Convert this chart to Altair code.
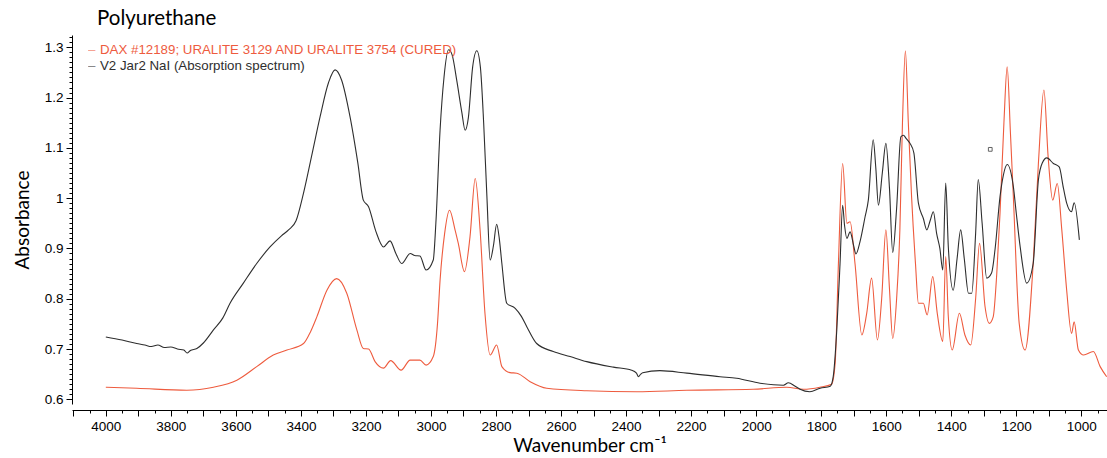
import altair as alt
import pandas as pd

# ---- data ----
black_wn = [4000, 3950, 3905, 3880, 3860, 3840, 3820, 3800, 3780, 3760, 3750, 3740, 3720, 3700,
            3669, 3640, 3618, 3577, 3536, 3495, 3460, 3438, 3415, 3392, 3365, 3341, 3315, 3295,
            3275, 3249, 3225, 3208, 3192, 3170, 3146, 3126, 3108, 3090, 3064, 3050, 3034, 3015,
            2993, 2985, 2972, 2960, 2946, 2935, 2921, 2905, 2895, 2885, 2872, 2859, 2848, 2838,
            2828, 2818, 2808, 2798, 2790, 2782, 2767, 2741, 2722, 2705, 2675, 2624, 2572, 2521,
            2439, 2383, 2368, 2362, 2355, 2349, 2296, 2213, 2111, 2060, 1988, 1916, 1901, 1880,
            1865, 1835, 1803, 1772, 1763, 1752, 1742, 1734, 1728, 1721, 1711, 1700, 1693, 1680,
            1665, 1655, 1640, 1632, 1624, 1612, 1601, 1590, 1580, 1568, 1555, 1547, 1539, 1527,
            1515, 1501, 1486, 1475, 1465, 1455, 1445, 1435, 1426, 1417, 1409, 1394, 1382, 1371,
            1360, 1347, 1337, 1325, 1317, 1305, 1291, 1276, 1265, 1250, 1240, 1228, 1209, 1200,
            1188, 1168, 1148, 1132, 1120, 1106, 1086, 1068, 1055, 1045, 1030, 1022, 1006]
black_abs = [0.724, 0.718, 0.711, 0.708, 0.705, 0.708, 0.703, 0.704, 0.700, 0.698, 0.692, 0.697, 0.701, 0.712,
             0.738, 0.762, 0.791, 0.831, 0.870, 0.903, 0.925, 0.937, 0.955, 1.010, 1.090, 1.162, 1.230, 1.255,
             1.235, 1.162, 1.070, 0.996, 0.983, 0.935, 0.903, 0.915, 0.890, 0.870, 0.890, 0.886, 0.885, 0.857,
             0.877, 0.950, 1.136, 1.240, 1.295, 1.285, 1.235, 1.170, 1.135, 1.160, 1.260, 1.293, 1.260, 1.150,
             1.003, 0.877, 0.905, 0.948, 0.920, 0.870, 0.791, 0.781, 0.765, 0.744, 0.711, 0.695, 0.685, 0.675,
             0.664, 0.658, 0.652, 0.645, 0.650, 0.653, 0.657, 0.652, 0.645, 0.642, 0.632, 0.628, 0.633, 0.626,
             0.620, 0.615, 0.622, 0.626, 0.645, 0.738, 0.870, 0.986, 0.945, 0.920, 0.933, 0.905, 0.889, 0.915,
             0.963, 0.996, 1.116, 1.060, 0.986, 1.050, 1.109, 1.020, 0.892, 0.980, 1.122, 1.125, 1.119, 1.109,
             1.090, 0.990, 0.960, 0.937, 0.955, 0.973, 0.930, 0.900, 0.857, 1.030, 0.903, 0.817, 0.880, 0.937,
             0.880, 0.811, 0.811, 0.930, 1.037, 0.950, 0.841, 0.851, 0.900, 1.003, 1.045, 1.067, 1.023, 0.970,
             0.903, 0.831, 0.870, 1.036, 1.070, 1.080, 1.069, 1.062, 1.020, 0.990, 0.973, 0.991, 0.917]

red_wn = [4000, 3905, 3751, 3669, 3597, 3536, 3485, 3443, 3392, 3370, 3351, 3320, 3290, 3259,
          3228, 3208, 3192, 3172, 3146, 3124, 3092, 3064, 3034, 3015, 2993, 2980, 2972, 2958,
          2943, 2926, 2916, 2897, 2880, 2864, 2849, 2834, 2818, 2798, 2782, 2757, 2736, 2695,
          2644, 2521, 2367, 2213, 2009, 1906, 1855, 1804, 1768, 1757, 1747, 1734, 1721, 1711,
          1696, 1675, 1660, 1645, 1627, 1614, 1601, 1590, 1580, 1568, 1558, 1550, 1541, 1532,
          1522, 1510, 1501, 1486, 1474, 1457, 1443, 1426, 1417, 1409, 1397, 1375, 1358, 1340,
          1325, 1313, 1296, 1283, 1271, 1260, 1250, 1238, 1228, 1218, 1209, 1191, 1173, 1148,
          1132, 1115, 1102, 1088, 1074, 1060, 1045, 1030, 1022, 1009, 993, 963, 942, 922]
red_abs = [0.624, 0.622, 0.618, 0.624, 0.638, 0.665, 0.688, 0.698, 0.711, 0.735, 0.764, 0.817, 0.840, 0.811,
           0.738, 0.701, 0.700, 0.675, 0.662, 0.677, 0.658, 0.678, 0.678, 0.668, 0.685, 0.750, 0.837, 0.930,
           0.976, 0.937, 0.910, 0.854, 0.923, 1.039, 0.937, 0.771, 0.688, 0.708, 0.665, 0.653, 0.652, 0.635,
           0.622, 0.617, 0.615, 0.618, 0.620, 0.624, 0.620, 0.624, 0.630, 0.672, 0.870, 1.069, 0.950, 0.953,
           0.870, 0.728, 0.771, 0.841, 0.718, 0.800, 0.937, 0.820, 0.721, 0.800, 0.937, 1.150, 1.293, 1.150,
           1.003, 0.870, 0.791, 0.791, 0.768, 0.844, 0.771, 0.715, 0.884, 0.764, 0.698, 0.771, 0.728, 0.708,
           0.800, 0.910, 0.784, 0.751, 0.764, 0.850, 0.970, 1.150, 1.261, 1.130, 1.003, 0.751, 0.698, 0.870,
           1.069, 1.215, 1.082, 0.996, 1.029, 0.937, 0.817, 0.731, 0.754, 0.698, 0.688, 0.695, 0.665, 0.645]

series_names = ["DAX #12189; URALITE 3129 AND URALITE 3754 (CURED)", "V2 Jar2 NaI (Absorption spectrum)"]
series_colors = ["#EE5B3E", "#2E2E2E"]
marker_wn = [1280]
marker_abs = [1.097]

y_major = [0.6, 0.7, 0.8, 0.9, 1.0, 1.1, 1.2, 1.3]
y_minor = [round(0.59 + 0.01 * i, 2) for i in range(74)]
x_major = list(range(1000, 4101, 100))
x_minor = list(range(950, 4101, 50))

df = pd.concat([
    pd.DataFrame({"wn": red_wn, "abs": red_abs, "series": series_names[0]}),
    pd.DataFrame({"wn": black_wn, "abs": black_abs, "series": series_names[1]}),
])
mk = pd.DataFrame({"wn": marker_wn, "abs": marker_abs})

xs = alt.Scale(domain=[921, 4104], reverse=True, nice=False, zero=False)
ys = alt.Scale(domain=[0.5907, 1.3244], nice=False, zero=False)

x_axis = alt.Axis(values=x_major, tickSize=6, offset=6, orient="bottom",
                  labelExpr="datum.value % 200 == 0 ? datum.label : ''", format="d",
                  title="Wavenumber cm\u207b\u00b9", titleFont="Lato", titleFontSize=19,
                  titleFontWeight="normal", titlePadding=4, labelPadding=3)
y_axis = alt.Axis(values=y_major, tickSize=6, orient="left", format=".1~f",
                  title="Absorbance", titleFont="Lato", titleFontSize=19,
                  titleFontWeight="normal", titlePadding=12, labelPadding=3)
x_axis_minor = alt.Axis(values=x_minor, tickSize=3, offset=6, orient="bottom",
                        labels=False, domain=False, title=None)
y_axis_minor = alt.Axis(values=y_minor, tickSize=3, orient="left",
                        labels=False, domain=False, title=None)

lines = alt.Chart(df).mark_line(strokeWidth=1.1, interpolate="monotone", clip=True).encode(
    x=alt.X("wn:Q", scale=xs, axis=x_axis),
    y=alt.Y("abs:Q", scale=ys, axis=y_axis),
    color=alt.Color("series:N", scale=alt.Scale(domain=series_names, range=series_colors), legend=None),
    detail="series:N",
)

minor = alt.Chart(df).mark_line(opacity=0).encode(
    x=alt.X("wn:Q", scale=xs, axis=x_axis_minor),
    y=alt.Y("abs:Q", scale=ys, axis=y_axis_minor),
    detail="series:N",
)

marker = alt.Chart(mk).mark_point(shape="square", filled=False, size=14, color="#222222",
                                  strokeWidth=1).encode(
    x=alt.X("wn:Q", scale=xs, axis=None), y=alt.Y("abs:Q", scale=ys, axis=None)
)

leg_df = pd.DataFrame({"name": series_names, "color": series_colors})
legend_layers = []
for i, (nm, col) in enumerate(zip(series_names, series_colors)):
    sub = leg_df[leg_df["name"] == nm]
    dash = alt.Chart(sub).mark_text(align="left", baseline="middle", font="Liberation Sans",
                                    fontSize=13.3, color=col, opacity=0.6).encode(
        x=alt.value(16), y=alt.value(15 + 16 * i), text=alt.value("\u2013"))
    txt = alt.Chart(sub).mark_text(align="left", baseline="middle", font="Liberation Sans",
                                   fontSize=13.3, color=col).encode(
        x=alt.value(28), y=alt.value(15 + 16 * i), text="name:N")
    legend_layers += [dash, txt]

chart = alt.layer(minor, lines, marker, *legend_layers).resolve_axis(
    x="independent", y="independent"
).properties(
    width=1035, height=369,
    autosize=alt.AutoSizeParams(type="none"),
    padding={"left": 72, "top": 35, "right": 0, "bottom": 54},
    title=alt.TitleParams("Polyurethane", anchor="start", dx=25, fontSize=20.5, font="Lato",
                          fontWeight="normal", offset=6, frame="group", color="black"),
).configure_view(stroke=None).configure_axis(
    domainColor="black", tickColor="black", labelColor="black", titleColor="black",
    labelFont="Liberation Sans", labelFontSize=13.5, grid=False
)

chart.save("out.html", embed_options={"renderer": "svg", "actions": False})
